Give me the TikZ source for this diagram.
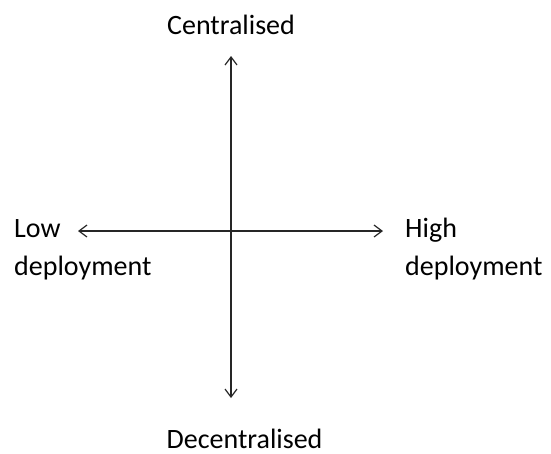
\documentclass[tikz,border=0pt]{standalone}
\usepackage{fontspec}
\setmainfont{Carlito}
\usetikzlibrary{arrows.meta}
\begin{document}
\begin{tikzpicture}[x=1pt,y=-1pt,
  lbl/.style={font=\fontsize{28}{38}\selectfont, inner sep=0pt, align=left, text=black},
  axis/.style={draw=black!85, line width=1.2pt, {Straight Barb[length=8pt,width=12pt]}-{Straight Barb[length=8pt,width=12pt]}}]
\useasboundingbox (0,0) rectangle (551,453);
\coordinate (top) at (231,56);
\coordinate (bot) at (231,398);
\coordinate (lft) at (78,231);
\coordinate (rgt) at (383,231);
\draw[axis] (bot) -- (top);
\draw[axis] (lft) -- (rgt);
\node[lbl, anchor=base] (cen) at (231,34) {Centralised};
\node[lbl, anchor=base] (dec) at (244.5,448) {Decentralised};
\node[lbl, anchor=base west] (low) at (14,275) {Low\\deployment};
\node[lbl, anchor=base west] (high) at (405,275) {High\\deployment};
\end{tikzpicture}
\end{document}
